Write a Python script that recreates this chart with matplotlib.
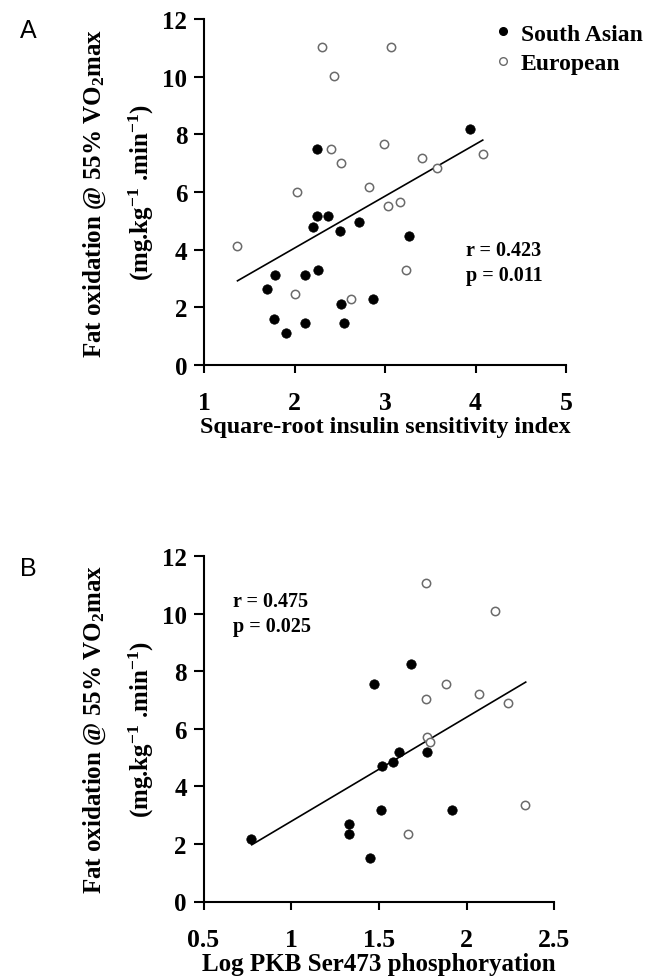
import matplotlib
matplotlib.use("Agg")
import matplotlib.pyplot as plt
from matplotlib.lines import Line2D

# Panel A: square-root insulin sensitivity index vs fat oxidation
a_sa_x = [2.25, 3.94, 2.25, 2.37, 2.20, 2.50, 2.71, 3.26, 1.79, 2.12, 2.26,
          1.70, 2.87, 2.51, 1.77, 2.12, 2.55, 1.91]
a_sa_y = [7.50, 8.17, 5.16, 5.16, 4.80, 4.64, 4.97, 4.46, 3.13, 3.13, 3.30,
          2.62, 2.30, 2.11, 1.61, 1.46, 1.46, 1.11]
a_eu_x = [2.30, 3.07, 2.44, 2.40, 2.51, 2.99, 3.41, 3.58, 4.08, 2.03, 2.82,
          3.03, 3.17, 1.37, 3.23, 2.01, 2.62]
a_eu_y = [11.04, 11.04, 10.03, 7.50, 7.01, 7.68, 7.18, 6.83, 7.33, 5.99, 6.18,
          5.50, 5.67, 4.14, 3.30, 2.47, 2.30]
a_fit_x = [1.37, 4.08]
a_fit_y = [2.92, 7.80]
a_stats = "r = 0.423\np = 0.011"

# Panel B: log PKB Ser473 phosphorylation vs fat oxidation
b_sa_x = [1.681, 1.474, 1.615, 1.774, 1.582, 1.518, 1.510, 1.917, 1.328,
          1.330, 0.771, 1.451]
b_sa_y = [8.24, 7.54, 5.19, 5.19, 4.86, 4.70, 3.18, 3.18, 2.68, 2.35, 2.17, 1.51]
b_eu_x = [1.767, 2.162, 1.883, 2.071, 1.770, 2.238, 1.773, 1.791, 2.335, 1.668]
b_eu_y = [11.07, 10.08, 7.54, 7.21, 7.03, 6.88, 5.70, 5.55, 3.36, 2.35]
b_fit_x = [0.775, 2.337]
b_fit_y = [1.97, 7.62]
b_stats = "r = 0.475\np = 0.025"

y_ticks = [0, 2, 4, 6, 8, 10, 12]
a_xticks = [1, 2, 3, 4, 5]
b_xticks = [0.5, 1, 1.5, 2, 2.5]
b_xticklabels = ["0.5", "1", "1.5", "2", "2.5"]

plt.rcParams["font.family"] = ["Liberation Serif", "DejaVu Serif"]
plt.rcParams["font.weight"] = "bold"
plt.rcParams["axes.labelweight"] = "bold"
plt.rcParams["mathtext.fontset"] = "custom"
plt.rcParams["mathtext.rm"] = "Liberation Serif:bold"
plt.rcParams["mathtext.bf"] = "Liberation Serif:bold"
plt.rcParams["mathtext.it"] = "Liberation Serif:bold:italic"
plt.rcParams["mathtext.default"] = "rm"

W, H = 664, 979
fig = plt.figure(figsize=(W / 100, H / 100), dpi=100)
fig.patch.set_facecolor("white")

ylab1 = "Fat oxidation @ 55% VO$_{2}$max"
ylab2 = "(mg.kg$^{-1}$ .min$^{-1}$)"


def px_axes(left, right, top, bottom):
    return fig.add_axes([left / W, 1 - bottom / H, (right - left) / W, (bottom - top) / H])


def style(ax, xlim, xticks, xticklabels):
    ax.set_xlim(*xlim)
    ax.set_ylim(0, 12)
    ax.set_xticks(xticks)
    ax.set_xticklabels(xticklabels)
    ax.set_yticks(y_ticks)
    for s in ("top", "right"):
        ax.spines[s].set_visible(False)
    for s in ("left", "bottom"):
        ax.spines[s].set_linewidth(1.5)
    ax.tick_params(axis="y", direction="out", length=7, width=1.5, pad=5, labelsize=18)
    ax.tick_params(axis="x", direction="out", length=6, width=1.5, pad=13, labelsize=18.5)
    ax.set_facecolor("none")


def scatter(ax, sx, sy, ex, ey, fx, fy):
    ax.scatter(sx, sy, s=46, c="black", edgecolors="black", linewidths=0.5, zorder=3, clip_on=False)
    ax.scatter(ex, ey, s=36, facecolors="white", edgecolors="#6a6a6a", linewidths=1.1, zorder=3, clip_on=False)
    ax.plot(fx, fy, color="black", lw=1.2, zorder=2)


# --- panel A ---
axA = px_axes(204, 566, 20, 366)
scatter(axA, a_sa_x, a_sa_y, a_eu_x, a_eu_y, a_fit_x, a_fit_y)
style(axA, (1, 5), a_xticks, [str(t) for t in a_xticks])
axA.set_xlabel("Square-root insulin sensitivity index", fontsize=17.3, fontweight="bold", labelpad=1)
axA.text(3.90, 3.55, a_stats, fontsize=14.5, ha="left", va="center", linespacing=1.35)

handles = [
    Line2D([], [], ls="none", marker="o", ms=5.5, mfc="black", mec="black"),
    Line2D([], [], ls="none", marker="o", ms=5.5, mfc="white", mec="#6a6a6a", mew=1.0),
]
fig.legend(handles, ["South Asian", "European"], loc="upper left",
           bbox_to_anchor=(496 / W, 1 - 24 / H), frameon=False,
           prop={"size": 17, "weight": "bold"},
           handlelength=0.6, handletextpad=0.45, labelspacing=0.35,
           borderpad=0, borderaxespad=0)

# --- panel B ---
axB = px_axes(203.5, 554.3, 557, 902.5)
scatter(axB, b_sa_x, b_sa_y, b_eu_x, b_eu_y, b_fit_x, b_fit_y)
style(axB, (0.5, 2.5), b_xticks, b_xticklabels)
axB.set_xlabel("Log PKB Ser473 phosphoryation", fontsize=18, fontweight="bold", labelpad=1)
axB.text(0.668, 10.0, b_stats, fontsize=14.5, ha="left", va="center", linespacing=1.35)

# y labels (two lines) and panel letters
for top, bottom, letter, ly in ((20, 366, "A", 31), (557, 902.5, "B", 569)):
    cy = 1 - (top + bottom) / 2 / H
    fig.text(95 / W, cy, ylab1, rotation=90, fontsize=18, ha="center", va="center")
    fig.text(141 / W, cy, ylab2, rotation=90, fontsize=18, ha="center", va="center")
    fig.text(28 / W, 1 - ly / H, letter, fontsize=18, fontweight="normal",
             family="Liberation Sans", ha="center", va="center")

fig.savefig("out.png", dpi=100)
